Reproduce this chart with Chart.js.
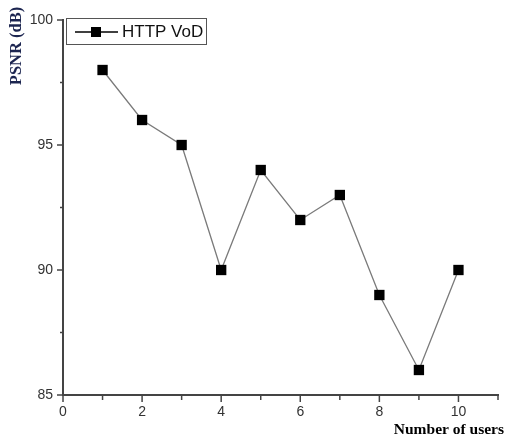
<!DOCTYPE html>
<html>
<head>
<meta charset="utf-8">
<script src="https://cdn.jsdelivr.net/npm/chart.js@4/dist/chart.umd.min.js"></script>
<style>
  html, body { margin: 0; padding: 0; background: #fff; }
  #wrap { width: 510px; height: 438px; }
</style>
</head>
<body>
<div id="wrap"><canvas id="grafico"></canvas></div>
<script>
// datos
var usuarios = [1, 2, 3, 4, 5, 6, 7, 8, 9, 10];
var psnr = [98, 96, 95, 90, 94, 92, 93, 89, 86, 90];
var serieNombre = "HTTP VoD";
var yTitulo = "PSNR (dB)";
var xTitulo = "Number of users";

var puntos = usuarios.map(function(u, i){ return {x: u, y: psnr[i]}; });

// marcas de los ejes, leyenda y titulos
var decoracion = {
  id: 'decoracion',
  afterDraw: function(chart){
    var ctx = chart.ctx;
    var xs = chart.scales.x, ys = chart.scales.y;
    ctx.save();
    ctx.strokeStyle = '#444';
    ctx.lineWidth = 1.5;
    xs.ticks.forEach(function(t){
      var px = xs.getPixelForValue(t.value);
      var largo = (t.value % 2 === 0) ? 7 : 5;
      ctx.beginPath();
      ctx.moveTo(px, xs.top);
      ctx.lineTo(px, xs.top + largo);
      ctx.stroke();
    });
    ys.ticks.forEach(function(t){
      var py = ys.getPixelForValue(t.value);
      var largo = (t.value % 5 === 0) ? 6 : 3;
      ctx.beginPath();
      ctx.moveTo(ys.right, py);
      ctx.lineTo(ys.right - largo, py);
      ctx.stroke();
    });

    // leyenda
    var ds = chart.data.datasets[0];
    ctx.strokeStyle = '#555';
    ctx.lineWidth = 1;
    ctx.strokeRect(66.5, 18.5, 140, 26);
    ctx.strokeStyle = '#000';
    ctx.lineWidth = 1.5;
    ctx.beginPath();
    ctx.moveTo(75, 32);
    ctx.lineTo(118, 32);
    ctx.stroke();
    ctx.fillStyle = ds.pointBackgroundColor;
    ctx.fillRect(91, 27, 10, 10);
    ctx.fillStyle = '#111';
    ctx.font = '17px "Liberation Sans", Arial, sans-serif';
    ctx.textBaseline = 'middle';
    ctx.textAlign = 'left';
    ctx.fillText(serieNombre, 122, 32);

    // titulos
    ctx.font = 'bold 15.5px "Liberation Serif", "Times New Roman", serif';
    ctx.fillStyle = '#000';
    ctx.textAlign = 'right';
    ctx.textBaseline = 'alphabetic';
    ctx.fillText(xTitulo, 504, 434);

    ctx.font = 'bold 16.5px "Liberation Serif", "Times New Roman", serif';
    ctx.translate(17, 46);
    ctx.rotate(-Math.PI / 2);
    ctx.textAlign = 'center';
    ctx.textBaseline = 'middle';
    ctx.fillStyle = '#1c2550';
    ctx.fillText(yTitulo, 0, 0);
    ctx.restore();
  }
};

var ctx = document.getElementById("grafico").getContext("2d");
var config = {
  type: 'line',
  data: {
    datasets: [{
      label: serieNombre,
      data: puntos,
      borderColor: '#7a7a7a',
      borderWidth: 1.3,
      pointStyle: 'rect',
      pointRadius: 7.3,
      pointHoverRadius: 7.3,
      pointBackgroundColor: '#000',
      pointBorderColor: '#000',
      pointBorderWidth: 0,
      tension: 0
    }]
  },
  options: {
    responsive: true,
    maintainAspectRatio: false,
    animation: false,
    layout: { padding: { top: 20, right: 12, left: 0, bottom: 0 } },
    plugins: {
      legend: { display: false },
      tooltip: { enabled: false }
    },
    scales: {
      x: {
        type: 'linear',
        min: 0,
        max: 11,
        grid: { display: false, drawTicks: false },
        border: { display: true, color: '#444', width: 2 },
        ticks: {
          stepSize: 1,
          padding: 9,
          color: '#333',
          font: { family: '"Liberation Sans", Arial, sans-serif', size: 14 },
          maxRotation: 0,
          autoSkip: false,
          callback: function(v){ return (v % 2 === 0 && v <= 10) ? v : ''; }
        },
        afterFit: function(s){ s.height = 43; }
      },
      y: {
        min: 85,
        max: 100,
        grid: { display: false, drawTicks: false },
        border: { display: true, color: '#444', width: 2 },
        ticks: {
          stepSize: 2.5,
          padding: 10,
          color: '#333',
          font: { family: '"Liberation Sans", Arial, sans-serif', size: 14 },
          autoSkip: false,
          callback: function(v){ return (v % 5 === 0) ? v : ''; }
        },
        afterFit: function(s){ s.width = 63; }
      }
    }
  },
  plugins: [decoracion]
};
var chart = new Chart(ctx, config);
</script>
</body>
</html>
